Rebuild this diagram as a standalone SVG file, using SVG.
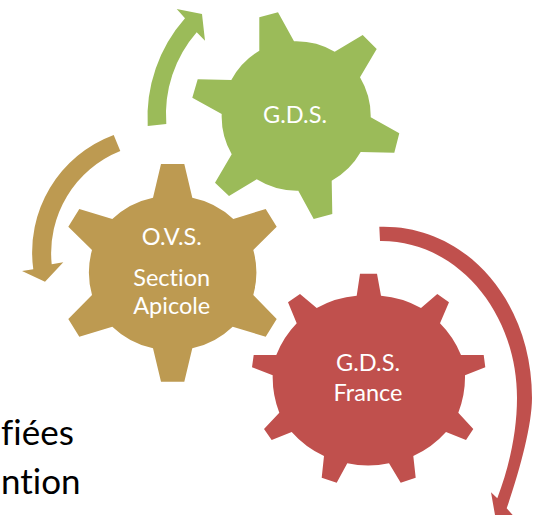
<svg xmlns="http://www.w3.org/2000/svg" width="537" height="515" viewBox="0 0 537 515">
<style>
.t{font-family:Lato,"Noto Sans",sans-serif;fill:#fff;font-size:23.5px;text-anchor:middle;font-variant-ligatures:none}
.b{font-family:Lato,"Noto Sans",sans-serif;fill:#000;font-size:35px;font-variant-ligatures:none}
.g{fill:#9bbb59}.o{fill:#bd9a51}.r{fill:#c0504d}
</style>
<rect width="537" height="515" fill="#fff"/>
<text class="b" x="1" y="445">fiées</text>
<text class="b" x="1" y="494">ntion</text>
<g id="connectors">
<path class="g" d="M147.700 126A150 150 0 0 1 185 18.300L176.700 9L202 14L205 40.700L196.700 32.300A125 125 0 0 0 166.300 124Z"/>
<path class="o" d="M113.700 135A125 125 0 0 0 33.300 269.300L22 271L45 281.700L63.300 262.300L51.700 264.300A110 110 0 0 1 120.300 151Z"/>
<path class="r" d="M379.300 226.700C465 224 532 300 532 398C532 425 520 470 506.700 508.300L512.700 515L495 515L491 492.300L497.300 498.300C510 465 517 430 517 398C517 310 455 240 380 241Z"/>
</g>
<g id="gds">
<path class="g" d="M259.300 17.300L278 12.300L294 41.300A76 76 0 0 1 334.700 51.700L362.700 35L376.700 49L360 77.300A76 76 0 0 1 370.700 117.300L399.300 133.300L394.300 152.700L360.700 152A76 76 0 0 1 331.700 180.700L332.300 214L313.700 219L298.300 190.700A76 76 0 0 1 256.700 179.300L229 196L215 182.700L231.700 154.300A76 76 0 0 1 221.700 114L192.300 97.700L197.700 79.300L231.300 80A76 76 0 0 1 259.300 50.700Z"/>
<text class="t" x="295" y="122.700">G.D.S.</text>
</g>
<g id="ovs">
<path class="o" d="M161 164L184.300 164L192.300 197.700A84 84 0 0 1 233.300 219L265.700 209L276.700 226.700L253.300 250A84 84 0 0 1 253.300 295L276.700 319L265.700 336.700L232.700 326.700A84 84 0 0 1 192.300 348.300L184.300 381.700L161 381.700L153 348.300A84 84 0 0 1 112.300 326.700L79.300 336.700L68.300 319L92 295A84 84 0 0 1 92 250L68.300 226.700L79.300 209L112.300 219A84 84 0 0 1 153 197.700Z"/>
<text class="t" x="171.700" y="245">O.V.S.</text>
<text class="t" x="171.700" y="286">Section</text>
<text class="t" x="171.700" y="314.300">Apicole</text>
</g>
<g id="gdsfrance">
<path class="r" d="M360 273.700L377 273.700L381 295.700A97 97 0 0 1 421 308L437.300 294L449 302.300L440 323.300A97 97 0 0 1 461 355L483.700 355L485.300 367.300L465 375.300A97 97 0 0 1 458.300 412.700L473.300 429L466 440L446 432A97 97 0 0 1 413.300 456L415.700 477.700L400.700 482.700L389 463.300A97 97 0 0 1 347.300 463.300L336.700 482.700L321.700 477.700L324 456A97 97 0 0 1 291.700 432L271.700 440L264 429L279.300 412.700A97 97 0 0 1 272.700 375.300L252 367.300L253.700 355L276.300 355A97 97 0 0 1 296.700 323.300L288 302.300L300 294L316.700 308A97 97 0 0 1 356.700 295.700Z"/>
<text class="t" x="368" y="370.700">G.D.S.</text>
<text class="t" x="368" y="401">France</text>
</g>
</svg>
